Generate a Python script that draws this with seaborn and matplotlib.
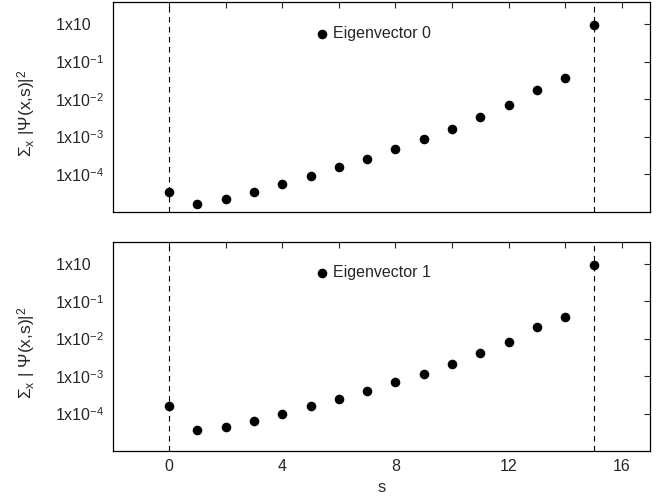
import matplotlib
matplotlib.use("Agg")
import matplotlib.pyplot as plt
from matplotlib.ticker import FixedLocator, FixedFormatter
import seaborn as sns
import pandas as pd

# Summed squared amplitude per slice s for the two lowest eigenvectors
s_values = list(range(16))
eig0 = [3.5e-5, 1.6e-5, 2.2e-5, 3.5e-5, 5.6e-5, 8.9e-5, 1.55e-4, 2.6e-4,
        4.7e-4, 8.9e-4, 1.66e-3, 3.4e-3, 6.9e-3, 1.8e-2, 3.6e-2, 0.93]
eig1 = [1.6e-4, 3.55e-5, 4.5e-5, 6.3e-5, 9.8e-5, 1.55e-4, 2.4e-4, 4.1e-4,
        6.8e-4, 1.17e-3, 2.14e-3, 4.2e-3, 8.1e-3, 2.1e-2, 3.9e-2, 0.95]
series_labels = ["Eigenvector 0", "Eigenvector 1"]
boundaries = [0, 15]

ytick_values = [1e-4, 1e-3, 1e-2, 1e-1, 1.0]
ytick_labels = [r"1x10$^{\mathregular{-4}}$", r"1x10$^{\mathregular{-3}}$",
                r"1x10$^{\mathregular{-2}}$", r"1x10$^{\mathregular{-1}}$", "1x10   "]
xtick_values = [0, 2, 4, 6, 8, 10, 12, 14, 16]
xtick_labels = ["0", "", "4", "", "8", "", "12", "", "16"]

sns.set_style("white")
plt.rcParams["font.family"] = ["Liberation Sans", "DejaVu Sans"]
plt.rcParams["mathtext.fontset"] = "custom"
plt.rcParams["mathtext.rm"] = "Liberation Sans"
plt.rcParams["mathtext.it"] = "Liberation Serif:italic"

df = pd.DataFrame({
    "s": s_values * 2,
    "value": eig0 + eig1,
    "series": [series_labels[0]] * 16 + [series_labels[1]] * 16,
})

fig = plt.figure(figsize=(6.62, 5.0), dpi=100)
left, width = 0.170, 0.812
ax_top = fig.add_axes([left, 0.576, width, 0.420])
ax_bot = fig.add_axes([left, 0.098, width, 0.4186])

ylabels = [r"$\Sigma_{\mathregular{x}}$ |$\Psi$(x,s)|$^{\mathregular{2}}$",
           r"$\Sigma_{\mathregular{x}}$ | $\Psi$(x,s)|$^{\mathregular{2}}$"]

for ax, name, ylab in zip([ax_top, ax_bot], series_labels, ylabels):
    sub = df[df["series"] == name]
    sns.scatterplot(data=sub, x="s", y="value", ax=ax, color="black",
                    s=48, edgecolor="black", linewidth=0, label=name)
    for b in boundaries:
        ax.axvline(b, color="black", lw=0.8, ls=(0, (5, 4)), zorder=1)
    ax.set_yscale("log")
    ax.set_ylim(1e-5, 3.9)
    ax.set_xlim(-2, 17)
    ax.yaxis.set_major_locator(FixedLocator(ytick_values))
    ax.yaxis.set_major_formatter(FixedFormatter(ytick_labels))
    ax.yaxis.set_minor_locator(FixedLocator([]))
    ax.xaxis.set_major_locator(FixedLocator(xtick_values))
    ax.tick_params(axis="both", which="major", direction="in", length=4,
                   width=0.8, top=True, right=True, labelsize=11.5, pad=6)
    for sp in ax.spines.values():
        sp.set_color("black")
        sp.set_linewidth(0.9)
    ax.set_ylabel(ylab, fontsize=12.5)
    ax.yaxis.set_label_coords(-0.139, 0.47)
    ax.legend(loc="center left", bbox_to_anchor=(0.378, 0.851),
              frameon=False, handlelength=0.8, handletextpad=0.25,
              borderpad=0, borderaxespad=0, fontsize=11.5)

ax_top.set_xlabel("")
ax_top.set_xticklabels([])
ax_bot.xaxis.set_major_formatter(FixedFormatter(xtick_labels))
ax_bot.set_xlabel("s", fontsize=12)

fig.savefig("out.png", dpi=100)
